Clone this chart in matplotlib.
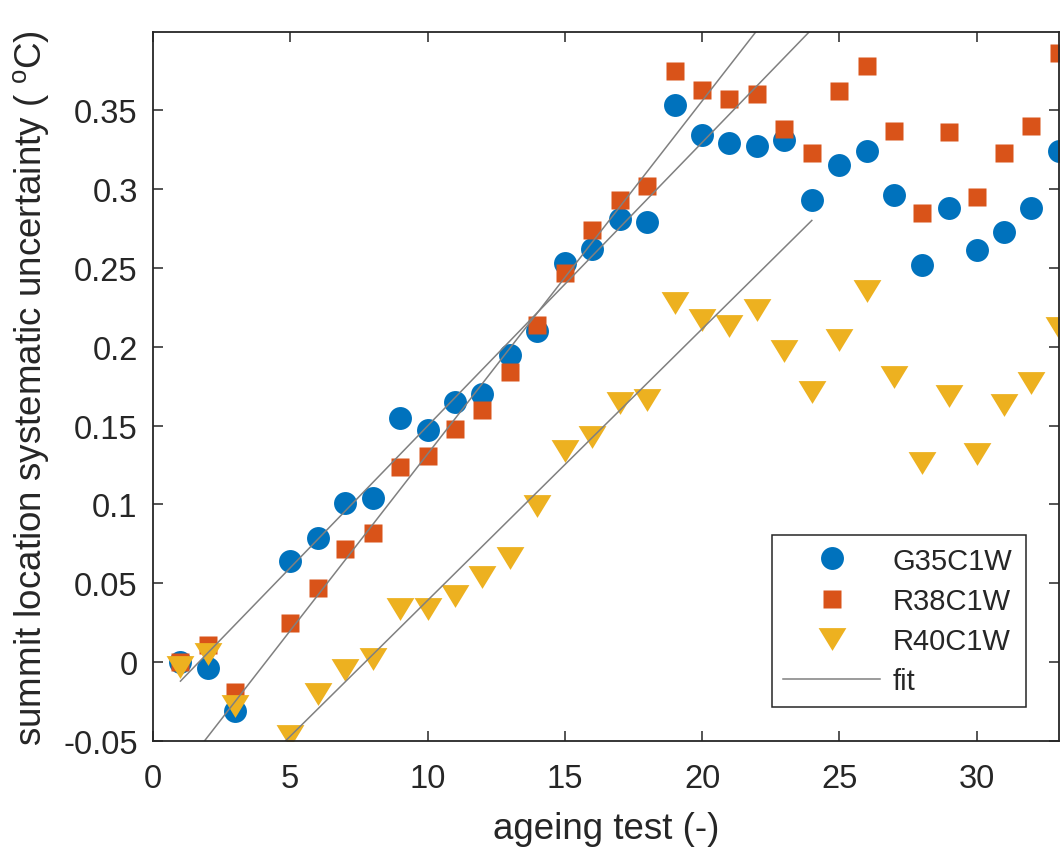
import numpy as np
import matplotlib
matplotlib.use('Agg')
import matplotlib.pyplot as plt

plt.rcParams['font.family'] = ['Liberation Sans', 'DejaVu Sans']
plt.rcParams['mathtext.fontset'] = 'custom'
plt.rcParams['mathtext.rm'] = 'Liberation Sans'

# ageing test number
tests = np.arange(1, 34)
tests = tests[tests != 4]

# summit location systematic uncertainty (oC)
g35c1w = [0.000, -0.004, -0.031, 0.064, 0.079, 0.101, 0.104, 0.155, 0.147, 0.165,
          0.170, 0.195, 0.210, 0.253, 0.262, 0.281, 0.279, 0.353, 0.334, 0.329,
          0.327, 0.331, 0.293, 0.315, 0.324, 0.296, 0.252, 0.288, 0.261, 0.273,
          0.288, 0.324]
r38c1w = [0.000, 0.011, -0.019, 0.025, 0.047, 0.072, 0.082, 0.124, 0.131, 0.148,
          0.160, 0.184, 0.214, 0.247, 0.274, 0.293, 0.302, 0.375, 0.363, 0.357,
          0.360, 0.338, 0.323, 0.362, 0.378, 0.337, 0.285, 0.336, 0.295, 0.323,
          0.340, 0.386]
r40c1w = [-0.003, 0.005, -0.028, -0.047, -0.020, -0.005, 0.002, 0.034, 0.034, 0.042,
          0.054, 0.066, 0.099, 0.134, 0.143, 0.164, 0.166, 0.228, 0.217, 0.213,
          0.223, 0.197, 0.171, 0.204, 0.235, 0.181, 0.126, 0.169, 0.132, 0.163,
          0.177, 0.212]

# linear fits: slope, intercept, x range
fit_g35 = (0.01797, -0.0300, 1, 24)
fit_r38 = (0.02238, -0.0919, 1, 24)
fit_r40 = (0.01721, -0.1330, 4, 24)

blue = '#0072BD'
red = '#D95319'
yellow = '#EDB120'
grey = '#808080'
dark = '#262626'

fig = plt.figure(figsize=(10.61, 8.53), dpi=100)
ax = fig.add_axes([0.1442, 0.1301, 0.8538, 0.8312])

ax.plot(tests, g35c1w, 'o', color=blue, ms=16.5, mec='none', label='G35C1W')
ax.plot(tests, r38c1w, 's', color=red, ms=13, mec='none', label='R38C1W')
tri = [(-1, 0.82), (1, 0.82), (0, -0.82)]
ax.plot(tests, r40c1w, linestyle='none', marker=tri, color=yellow, ms=20,
        mec='none', label='R40C1W')

first = True
for slope, icpt, x0, x1 in [fit_g35, fit_r38, fit_r40]:
    xs = np.array([x0, x1])
    ax.plot(xs, slope * xs + icpt, '-', color=grey, lw=1.1,
            label='fit' if first else None)
    first = False

ax.set_xlim(0, 33)
ax.set_ylim(-0.05, 0.3995)
ax.set_xticks([0, 5, 10, 15, 20, 25, 30])
yt = [-0.05, 0, 0.05, 0.1, 0.15, 0.2, 0.25, 0.3, 0.35]
ax.set_yticks(yt)
ax.set_yticklabels(['-0.05', '0', '0.05', '0.1', '0.15', '0.2', '0.25', '0.3', '0.35'])

for s in ax.spines.values():
    s.set_color(dark)
    s.set_linewidth(1.3)
ax.tick_params(direction='in', length=7, width=1.1, colors=dark,
               labelsize=23.5, top=True, right=True)
ax.tick_params(axis='x', pad=16)
ax.tick_params(axis='y', pad=11)

ax.set_xlabel('ageing test (-)', fontsize=26.5, color=dark, labelpad=12)
ax.set_ylabel(r'summit location systematic uncertainty ( $^{\rm o}$C)',
              fontsize=26.5, color=dark, labelpad=8)

leg = ax.legend(loc='lower left', bbox_to_anchor=(0.683, 0.048, 0.2806, 0.244),
                mode='expand', borderaxespad=0, fontsize=21, numpoints=1,
                handlelength=3.3, handletextpad=0.45, borderpad=0.4,
                labelspacing=0.42, fancybox=False, framealpha=1, edgecolor=dark)
leg.get_frame().set_linewidth(1.1)
for t in leg.get_texts():
    t.set_color(dark)

fig.savefig('out.png', dpi=100)
